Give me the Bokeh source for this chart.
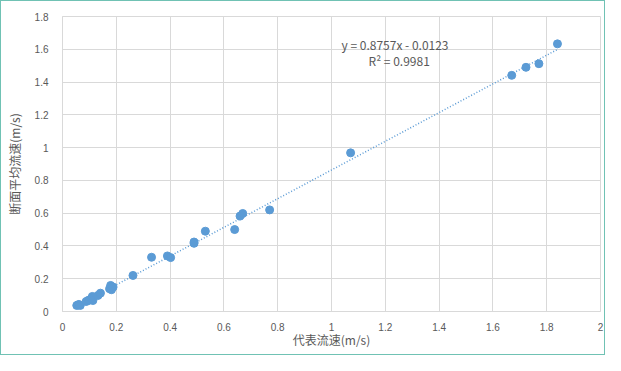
from bokeh.plotting import figure
from bokeh.models import Range1d, FixedTicker, Label
from bokeh.embed import file_html
from bokeh.resources import INLINE

# Data
x_rep = [0.053, 0.058, 0.061, 0.066, 0.088, 0.095, 0.100, 0.107, 0.111, 0.113,
         0.132, 0.141, 0.175, 0.179, 0.182, 0.188, 0.262, 0.331, 0.390, 0.402,
         0.489, 0.489, 0.531, 0.640, 0.660, 0.670, 0.770, 1.071, 1.670, 1.723,
         1.771, 1.840]
y_mean = [0.037, 0.040, 0.043, 0.037, 0.061, 0.067, 0.070, 0.078, 0.092, 0.067,
          0.098, 0.112, 0.139, 0.159, 0.133, 0.149, 0.220, 0.331, 0.339, 0.329,
          0.424, 0.416, 0.490, 0.500, 0.582, 0.598, 0.620, 0.968, 1.441, 1.490,
          1.512, 1.633]

slope = 0.8757
intercept = -0.0123
eq_text = "y = 0.8757x - 0.0123"
r2_text = "R² = 0.9981"

x_ticks = [0, 0.2, 0.4, 0.6, 0.8, 1, 1.2, 1.4, 1.6, 1.8, 2]
x_tick_labels = ["0", "0.2", "0.4", "0.6", "0.8", "1", "1.2", "1.4", "1.6", "1.8", "2"]
y_ticks = [0, 0.2, 0.4, 0.6, 0.8, 1, 1.2, 1.4, 1.6, 1.8]
y_tick_labels = ["0", "0.2", "0.4", "0.6", "0.8", "1", "1.2", "1.4", "1.6", "1.8"]

x_title = "代表流速(m/s)"
y_title = "断面平均流速(m/s)"

GRID = "#d9d9d9"
TXT = "#595959"
DOT = "#5B9BD5"
CJK = "Noto Sans CJK SC"

p = figure(width=605, height=355, output_backend="svg", toolbar_location=None,
           x_range=Range1d(0, 2), y_range=Range1d(0, 1.8),
           min_border_left=61, min_border_right=6, min_border_top=15,
           min_border_bottom=45)
p.styles = {"border": "1.5px solid #70c2b4", "box-sizing": "border-box"}

p.xaxis.ticker = FixedTicker(ticks=x_ticks)
p.yaxis.ticker = FixedTicker(ticks=y_ticks)
p.xaxis.major_label_overrides = {t: l for t, l in zip(x_ticks, x_tick_labels)}
p.yaxis.major_label_overrides = {t: l for t, l in zip(y_ticks, y_tick_labels)}

for ax in (p.xaxis, p.yaxis):
    ax.axis_line_color = GRID
    ax.major_tick_line_color = None
    ax.minor_tick_line_color = None
    ax.major_label_text_color = TXT
    ax.major_label_text_font = "Liberation Sans"
    ax.major_label_text_font_size = "10px"
    ax.axis_label_text_color = TXT
    ax.axis_label_text_font = CJK
    ax.axis_label_text_font_size = "12px"
    ax.axis_label_text_font_style = "normal"

p.xaxis.axis_label = x_title
p.yaxis.axis_label = y_title
p.xaxis.major_label_standoff = 5
p.yaxis.major_label_standoff = 8
p.xaxis.axis_label_standoff = -3
p.yaxis.axis_label_standoff = 9

p.xgrid.grid_line_color = GRID
p.ygrid.grid_line_color = GRID
p.outline_line_color = GRID

# trendline
x0, x1 = min(x_rep), max(x_rep)
p.line([x0, x1], [slope * x0 + intercept, slope * x1 + intercept],
       line_color=DOT, line_width=1.5, line_dash="1 2")

p.scatter(x_rep, y_mean, size=8, fill_color=DOT, line_color=DOT)

p.add_layout(Label(x=1.037, y=1.629, text=eq_text, text_color=TXT,
                   text_font=CJK, text_font_size="12px", text_baseline="middle"))
p.add_layout(Label(x=1.138, y=1.531, text=r2_text, text_color=TXT,
                   text_font=CJK, text_font_size="12px", text_baseline="middle"))

open("out.html", "w").write(file_html(p, INLINE))
